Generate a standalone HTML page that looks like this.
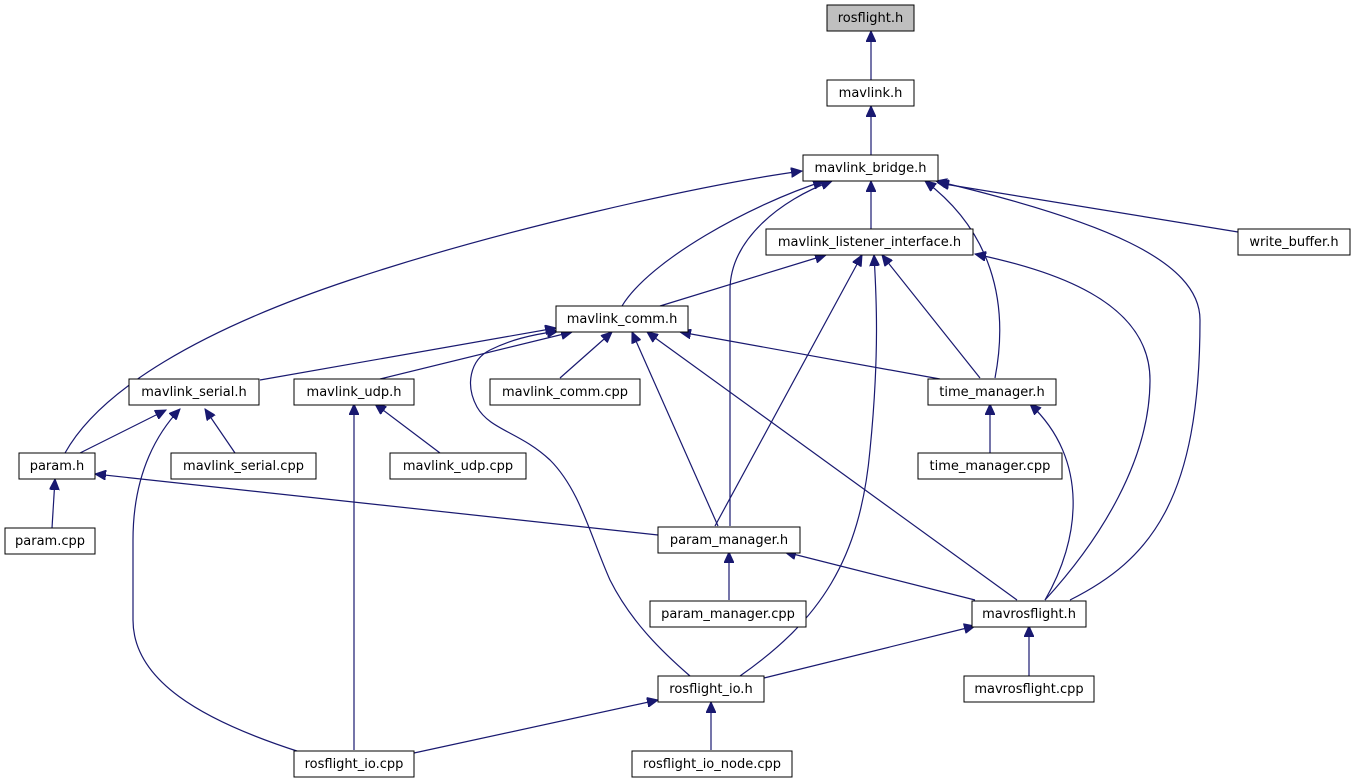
<!DOCTYPE html>
<html><head><meta charset="utf-8"><style>
html,body{margin:0;padding:0;background:#fff;}
svg{display:block;}
text{font-family:"DejaVu Sans","Liberation Sans",sans-serif;font-size:13px;fill:#000;}
</style></head><body>
<svg width="1355" height="784" viewBox="0 0 1355 784" xmlns="http://www.w3.org/2000/svg">
<defs>
<marker id="a" markerUnits="userSpaceOnUse" markerWidth="12" markerHeight="10" refX="11" refY="5" orient="auto">
<path d="M0,0 L11,5 L0,10 Z" fill="#191970" stroke="#191970"/>
</marker>
</defs>
<g fill="none" stroke="#191970" stroke-width="1.2" marker-end="url(#a)">
<path d="M871,80 L871,31"/>
<path d="M871,155 L871,106"/>
<path d="M871,229 L871,181"/>
<path d="M1238,232 L938,183"/>
<path d="M65,453 C100,390 200,330 350,280 C500,230 700,185 802,171"/>
<path d="M622,306 C650,260 750,205 824,181"/>
<path d="M730,526 L730,290 C730,240 780,200 832,181"/>
<path d="M995,378 C1010,300 990,230 925,181"/>
<path d="M1070,600 C1150,560 1200,500 1200,320 C1200,260 1100,220 936,181"/>
<path d="M660,306 L826,255"/>
<path d="M715,526 L862,255"/>
<path d="M740,676 C820,620 860,560 870,450 C880,350 876,290 874,255"/>
<path d="M980,378 L882,255"/>
<path d="M1045,600 C1100,540 1150,460 1150,380 C1150,300 1050,270 975,254"/>
<path d="M260,380 L556,328"/>
<path d="M380,379 L572,332"/>
<path d="M690,676 C660,650 630,620 610,580 C590,535 580,490 550,460 C520,432 490,430 477,407 C465,385 470,360 490,350 C510,340 530,335 558,331"/>
<path d="M560,378 L612,332"/>
<path d="M718,526 L632,332"/>
<path d="M1017,600 L647,332"/>
<path d="M940,379 L680,332"/>
<path d="M80,453 L166,410"/>
<path d="M235,453 L205,409"/>
<path d="M300,752 C200,720 133,680 133,620 L133,540 C133,470 160,430 180,409"/>
<path d="M440,453 L375,404"/>
<path d="M354,750 L354,404"/>
<path d="M658,535 L95,474"/>
<path d="M52,528 L55,479"/>
<path d="M990,453 L990,404"/>
<path d="M1045,600 C1080,540 1090,460 1030,404"/>
<path d="M729,600 L729,552"/>
<path d="M975,600 L785,552"/>
<path d="M764,678 L975,626"/>
<path d="M1029,676 L1029,626"/>
<path d="M414,753 L658,700"/>
<path d="M711,750 L711,702"/>
</g>
<g stroke="#000" stroke-width="1" text-anchor="middle">
<rect x="827" y="5" width="87" height="26" fill="#bfbfbf"/><text x="870.5" y="22" stroke="none">rosflight.h</text>
<rect x="827" y="80" width="87" height="26" fill="#fff"/><text x="870.5" y="97" stroke="none">mavlink.h</text>
<rect x="803" y="155" width="135" height="26" fill="#fff"/><text x="870.5" y="172" stroke="none">mavlink_bridge.h</text>
<rect x="766" y="229" width="207" height="26" fill="#fff"/><text x="869.5" y="246" stroke="none">mavlink_listener_interface.h</text>
<rect x="1238" y="229" width="112" height="26" fill="#fff"/><text x="1294" y="246" stroke="none">write_buffer.h</text>
<rect x="556" y="306" width="132" height="26" fill="#fff"/><text x="622" y="323" stroke="none">mavlink_comm.h</text>
<rect x="129" y="379" width="130" height="26" fill="#fff"/><text x="194" y="396" stroke="none">mavlink_serial.h</text>
<rect x="294" y="379" width="120" height="26" fill="#fff"/><text x="354" y="396" stroke="none">mavlink_udp.h</text>
<rect x="490" y="379" width="150" height="26" fill="#fff"/><text x="565" y="396" stroke="none">mavlink_comm.cpp</text>
<rect x="928" y="379" width="128" height="26" fill="#fff"/><text x="992" y="396" stroke="none">time_manager.h</text>
<rect x="19" y="453" width="76" height="26" fill="#fff"/><text x="57" y="470" stroke="none">param.h</text>
<rect x="171" y="453" width="145" height="26" fill="#fff"/><text x="243.5" y="470" stroke="none">mavlink_serial.cpp</text>
<rect x="390" y="453" width="136" height="26" fill="#fff"/><text x="458" y="470" stroke="none">mavlink_udp.cpp</text>
<rect x="918" y="453" width="144" height="26" fill="#fff"/><text x="990" y="470" stroke="none">time_manager.cpp</text>
<rect x="5" y="528" width="90" height="26" fill="#fff"/><text x="50" y="545" stroke="none">param.cpp</text>
<rect x="658" y="527" width="142" height="26" fill="#fff"/><text x="729" y="544" stroke="none">param_manager.h</text>
<rect x="650" y="601" width="156" height="26" fill="#fff"/><text x="728" y="618" stroke="none">param_manager.cpp</text>
<rect x="972" y="601" width="114" height="26" fill="#fff"/><text x="1029" y="618" stroke="none">mavrosflight.h</text>
<rect x="658" y="676" width="106" height="26" fill="#fff"/><text x="711" y="693" stroke="none">rosflight_io.h</text>
<rect x="964" y="676" width="130" height="26" fill="#fff"/><text x="1029" y="693" stroke="none">mavrosflight.cpp</text>
<rect x="294" y="751" width="120" height="26" fill="#fff"/><text x="354" y="768" stroke="none">rosflight_io.cpp</text>
<rect x="632" y="751" width="160" height="26" fill="#fff"/><text x="712" y="768" stroke="none">rosflight_io_node.cpp</text>
</g>
</svg>
</body></html>
